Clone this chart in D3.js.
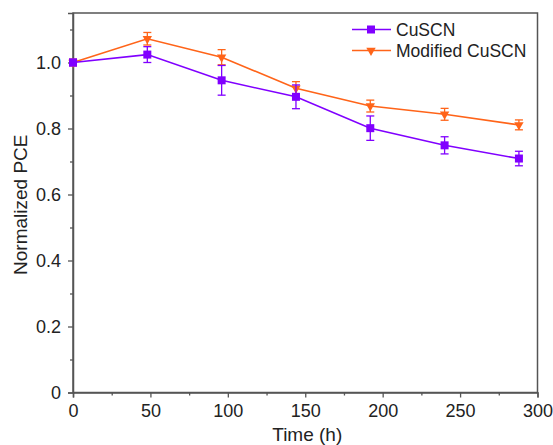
<!DOCTYPE html>
<html><head><meta charset="utf-8">
<script src="https://cdn.jsdelivr.net/npm/d3@7/dist/d3.min.js"></script>
<style>body{margin:0;background:#fff;} svg{display:block;}</style>
</head><body>
<svg id="c" width="553" height="445"></svg>
<script>
const times = [0, 48, 96, 144, 192, 240, 288];
const cuscn = [1.0, 1.024, 0.946, 0.896, 0.801, 0.749, 0.709];
const cuscnErr = [0.01, 0.024, 0.045, 0.036, 0.037, 0.026, 0.022];
const modified = [1.0, 1.072, 1.016, 0.922, 0.868, 0.843, 0.811];
const modifiedErr = [0.01, 0.019, 0.023, 0.02, 0.018, 0.018, 0.015];
const xTicks = [0, 50, 100, 150, 200, 250, 300];
const yTicks = [0, 0.2, 0.4, 0.6, 0.8, 1.0];
const seriesNames = ["CuSCN", "Modified CuSCN"];
const colors = ["#8000ff", "#ff6419"];

const svg = d3.select("#c");
const L = 73, R = 537.5, T = 13, B = 392.5;
const x = d3.scaleLinear().domain([0, 300]).range([L, R]);
const y = d3.scaleLinear().domain([0, 1.15]).range([B, T]);
const font = "Arial, 'Liberation Sans', sans-serif";
const axisColor = "#555";

// frame
svg.append("rect").attr("x", L).attr("y", T).attr("width", R - L).attr("height", B - T)
  .attr("fill", "none").attr("stroke", axisColor).attr("stroke-width", 1.5);

// x axis
svg.append("g").attr("transform", `translate(0,${B})`)
  .call(d3.axisBottom(x).tickValues(xTicks).tickFormat(d3.format("d")).tickSizeOuter(0).tickSize(5).tickPadding(7));
svg.append("g").attr("transform", `translate(0,${B})`)
  .call(d3.axisBottom(x).tickValues([25,75,125,175,225,275]).tickFormat("").tickSizeOuter(0).tickSize(3))
  .call(g => g.select(".domain").remove());
// y axis
svg.append("g").attr("transform", `translate(${L},0)`)
  .call(d3.axisLeft(y).tickValues(yTicks).tickFormat(d => d === 0 ? "0" : d3.format(".1f")(d)).tickSizeOuter(0).tickSize(5).tickPadding(7));
svg.append("g").attr("transform", `translate(${L},0)`)
  .call(d3.axisLeft(y).tickValues([0.1,0.3,0.5,0.7,0.9,1.1]).tickFormat("").tickSizeOuter(0).tickSize(3))
  .call(g => g.select(".domain").remove());
svg.selectAll(".tick line").attr("stroke", axisColor).attr("stroke-width", 1.3);
svg.selectAll(".domain").attr("stroke", axisColor).attr("stroke-width", 1.5);
svg.selectAll(".tick text").attr("font-family", font).attr("font-size", 18).attr("fill", "#222");

// titles
svg.append("text").attr("x", (L + R) / 2 + 2).attr("y", 441).attr("text-anchor", "middle")
  .attr("font-family", font).attr("font-size", 19).attr("fill", "#222").text("Time (h)");
svg.append("text").attr("transform", `translate(27,${(T + B) / 2 + 2}) rotate(-90)`).attr("text-anchor", "middle")
  .attr("font-family", font).attr("font-size", 19).attr("fill", "#222").text("Normalized PCE");

const data = [
  times.map((t, i) => ({t, v: cuscn[i], e: cuscnErr[i]})),
  times.map((t, i) => ({t, v: modified[i], e: modifiedErr[i]}))
];
const line = d3.line().x(d => x(d.t)).y(d => y(d.v));
const tri = d3.symbol().type(d3.symbolTriangle).size(38);

function marker(g, k, cx, cy) {
  if (k === 0) {
    g.append("rect").attr("x", cx - 4).attr("y", cy - 4).attr("width", 8).attr("height", 8).attr("fill", colors[k]);
  } else {
    g.append("path").attr("d", tri).attr("transform", `translate(${cx},${cy}) rotate(180)`).attr("fill", colors[k]);
  }
}

[1, 0].forEach(k => {
  const g = svg.append("g");
  g.append("path").datum(data[k]).attr("d", line).attr("fill", "none").attr("stroke", colors[k]).attr("stroke-width", 1.6);
  data[k].forEach(d => {
    const cx = x(d.t);
    g.append("line").attr("x1", cx).attr("x2", cx).attr("y1", y(d.v - d.e)).attr("y2", y(d.v + d.e)).attr("stroke", colors[k]).attr("stroke-width", 1.3);
    [d.v - d.e, d.v + d.e].forEach(v => g.append("line").attr("x1", cx - 4).attr("x2", cx + 4).attr("y1", y(v)).attr("y2", y(v)).attr("stroke", colors[k]).attr("stroke-width", 1.3));
    marker(g, k, cx, y(d.v));
  });
});

// legend
seriesNames.forEach((name, k) => {
  const ly = 29.5 + k * 21;
  const g = svg.append("g");
  g.append("line").attr("x1", 352).attr("x2", 391).attr("y1", ly).attr("y2", ly).attr("stroke", colors[k]).attr("stroke-width", 1.6);
  marker(g, k, 371, ly);
  g.append("text").attr("x", 396).attr("y", ly + 6.5).attr("font-family", font).attr("font-size", 17.5).attr("fill", "#222").text(name);
});
</script>
</body></html>
